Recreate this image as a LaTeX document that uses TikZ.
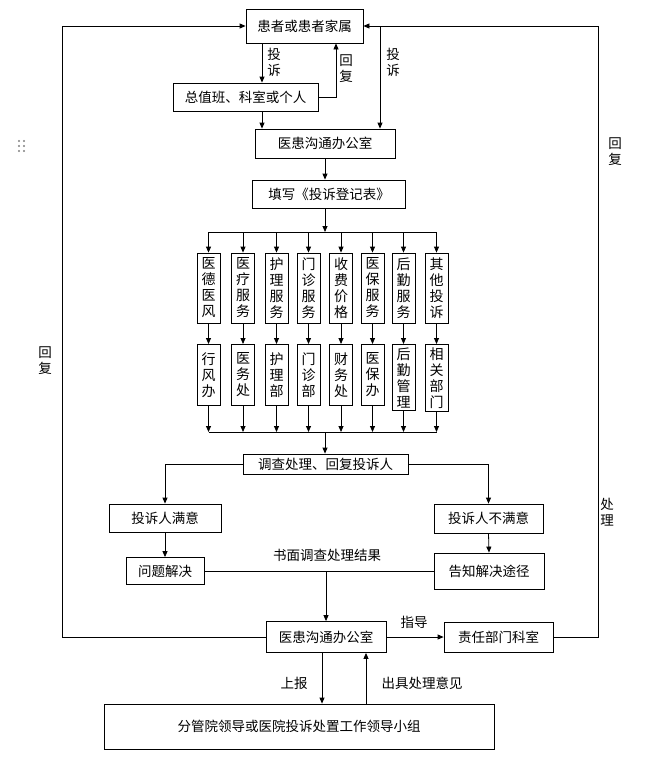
\documentclass[tikz,border=0pt]{standalone}
\usepackage{fontspec}
\setmainfont{Noto Sans CJK SC}
\usetikzlibrary{arrows.meta}
\tikzset{
  box/.style={draw, line width=0.8pt, inner sep=0pt, align=center},
  colbox/.style={box, minimum width=23pt, inner ysep=3pt,
    font=\fontsize{14}{16}\selectfont},
  arr/.style={-{Triangle[length=6pt,width=5pt]}},
  vlabel/.style={inner sep=0pt, align=center, font=\fontsize{13.5}{16}\selectfont},
}
\begin{document}
\begin{tikzpicture}[x=1pt, y=-1pt, line width=0.8pt, font=\fontsize{13.5}{16}\selectfont]
  \useasboundingbox (0,0) rectangle (655,766);
  \node[box, minimum width=117pt, minimum height=34pt] (pat) at (304.5,26) {患者或患者家属};
  \node[box, minimum width=145pt, minimum height=28pt] (duty) at (245.5,97) {总值班、科室或个人};
  \node[box, minimum width=140pt, minimum height=29pt] (off1) at (325,143.5) {医患沟通办公室};
  \node[box, minimum width=153pt, minimum height=28pt] (form) at (329,194) {填写《投诉登记表》};
  \coordinate (c1) at (262,0);
  \coordinate (c2) at (336,0);
  \coordinate (fork) at (380,26);
  \draw[arr] (c1 |- pat.south) -- (c1 |- duty.north);
  \draw[arr] (c1 |- duty.south) -- (c1 |- off1.north);
  \draw[arr] (duty.east) -| (c2 |- pat.south);
  \draw[arr] (fork) -- (fork |- off1.north);
  \draw[arr] (off1.south) -- (off1.south |- form.north);
  \node[vlabel] (t1) at (274,62) {投\\诉};
  \node[vlabel] (r1) at (346,69) {回\\复};
  \node[vlabel] (t2) at (393,62) {投\\诉};
  % eight kinds of complaint
  \coordinate (top) at (325,232);
  \coordinate (bot) at (325,432);
  \foreach \i/\x/\up/\lo in {1/208.5/{医\\德\\医\\风}/{行\\风\\办},
      2/243/{医\\疗\\服\\务}/{医\\务\\处},
      3/276.5/{护\\理\\服\\务}/{护\\理\\部},
      4/308.5/{门\\诊\\服\\务}/{门\\诊\\部},
      5/341/{收\\费\\价\\格}/{财\\务\\处},
      6/372.5/{医\\保\\服\\务}/{医\\保\\办},
      7/403.5/{后\\勤\\服\\务}/{后\\勤\\管\\理},
      8/436.5/{其\\他\\投\\诉}/{相\\关\\部\\门}}{
    \node[colbox, minimum height=70pt] (u\i) at (\x,288) {\up};
    \node[colbox, minimum height=61pt, anchor=north] (l\i) at (\x,344) {\lo};
    \draw[arr] (top -| u\i) -- (u\i.north);
    \draw[arr] (u\i.south) -- (l\i.north);
    \draw[arr] (l\i.south) -- (bot -| l\i);
  }
  \draw (top -| u1) -- (top -| u8);
  \draw (bot -| l1) -- (bot -| l8);
  \draw[arr] (form.south -| top) -- (top);
  \node[box, minimum width=165pt, minimum height=20pt] (inv) at (325.5,464) {调查处理、回复投诉人};
  \draw[arr] (bot) -- (bot |- inv.north);
  \node[box, minimum width=112pt, minimum height=28pt] (sat) at (165,518) {投诉人满意};
  \node[box, minimum width=78pt, minimum height=27pt] (solv) at (165,571) {问题解决};
  \node[box, minimum width=109pt, minimum height=29pt] (unsat) at (488.5,518.5) {投诉人不满意};
  \node[box, minimum width=110pt, minimum height=36pt] (tell) at (489,571) {告知解决途径};
  \draw[arr] (inv.west) -| (sat.north);
  \draw[arr] (inv.east) -| (unsat.north);
  \draw[arr] (sat.south) -- (solv.north);
  \draw[arr] (unsat.south) -- (tell.north);
  \draw (solv.east) -- (tell.west);
  \node[inner sep=0pt] (res) at (327,555) {书面调查处理结果};
  \node[box, minimum width=120pt, minimum height=31pt] (off2) at (326,637) {医患沟通办公室};
  \node[box, minimum width=109pt, minimum height=30pt] (resp) at (498.5,637) {责任部门科室};
  \node[box, minimum width=390pt, minimum height=45pt] (lead) at (299,726.5) {分管院领导或医院投诉处置工作领导小组};
  \coordinate (mid) at (326,571);
  \draw[arr] (mid) -- (mid |- off2.north);
  \draw[arr] (off2.east) -- (resp.west);
  \node[inner sep=0pt] (guide) at (414,622) {指导};
  \draw[arr] (resp.east) -- (598,637) |- (pat.east);
  \draw[arr] (off2.west) -- (62,637) |- (pat.west);
  \coordinate (c3) at (322,0);
  \coordinate (c4) at (366,0);
  \draw[arr] (c3 |- off2.south) -- (c3 |- lead.north);
  \draw[arr] (c4 |- lead.north) -- (c4 |- off2.south);
  \node[inner sep=0pt] (rep) at (294,683) {上报};
  \node[inner sep=0pt] (opin) at (422,683) {出具处理意见};
  \node[vlabel] (r2) at (615,152) {回\\复};
  \node[vlabel] (d1) at (607,512) {处\\理};
  \node[vlabel] (r3) at (45,361) {回\\复};
  \foreach \dx in {19,24}
    \foreach \dy in {141,146,151}
      \fill[gray] (\dx,\dy) circle (1.1pt);
\end{tikzpicture}
\end{document}
